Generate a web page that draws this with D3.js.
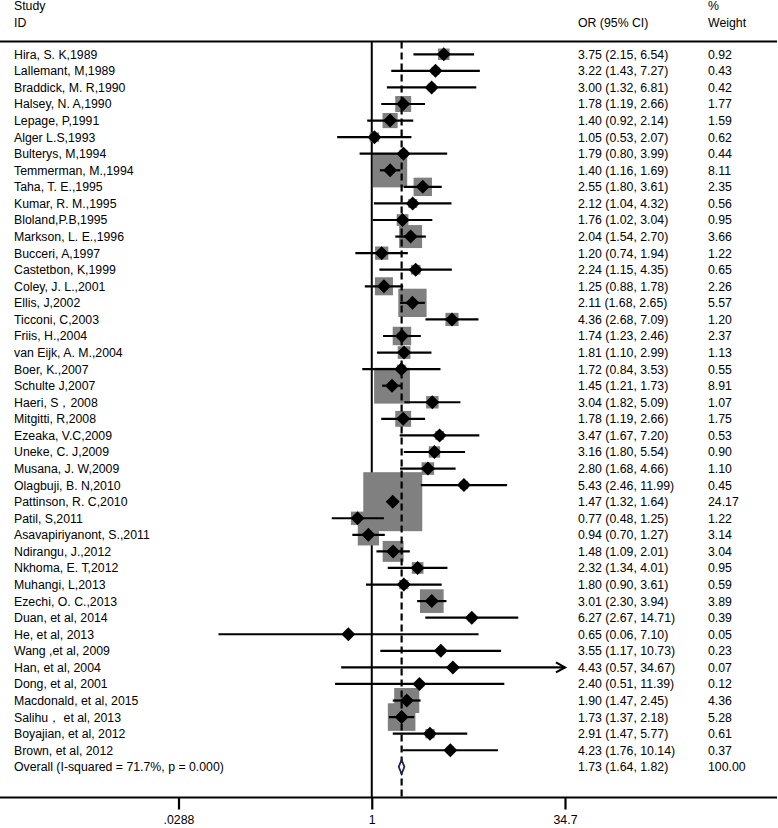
<!DOCTYPE html>
<html><head><meta charset="utf-8">
<script src="https://cdn.jsdelivr.net/npm/d3@7"></script>
<style>
html,body{margin:0;padding:0;background:#fff;}
text{font-family:"Liberation Sans",Arial,sans-serif;font-size:12.3px;fill:#000;}
</style></head>
<body><svg id="c" width="778" height="828"></svg>
<script>
const studies = ["Hira, S. K,1989","Lallemant, M,1989","Braddick, M. R,1990","Halsey, N. A,1990","Lepage, P,1991","Alger L.S,1993","Bulterys, M,1994","Temmerman, M.,1994","Taha, T. E.,1995","Kumar, R. M.,1995","Bloland,P.B,1995","Markson, L. E.,1996","Bucceri, A,1997","Castetbon, K,1999","Coley, J. L.,2001","Ellis, J,2002","Ticconi, C,2003","Friis, H.,2004","van Eijk, A. M.,2004","Boer, K.,2007","Schulte J,2007","Haeri, S，2008","Mitgitti, R,2008","Ezeaka, V.C,2009","Uneke, C. J,2009","Musana, J. W,2009","Olagbuji, B. N,2010","Pattinson, R. C,2010","Patil, S,2011","Asavapiriyanont, S.,2011","Ndirangu, J.,2012","Nkhoma, E. T,2012","Muhangi, L,2013","Ezechi, O. C.,2013","Duan, et al, 2014","He, et al, 2013","Wang ,et al, 2009","Han, et al, 2004","Dong, et al, 2001","Macdonald, et al, 2015","Salihu，  et al, 2013","Boyajian, et al, 2012","Brown, et al, 2012"];
const orVals = [3.75,3.22,3.00,1.78,1.40,1.05,1.79,1.40,2.55,2.12,1.76,2.04,1.20,2.24,1.25,2.11,4.36,1.74,1.81,1.72,1.45,3.04,1.78,3.47,3.16,2.80,5.43,1.47,0.77,0.94,1.48,2.32,1.80,3.01,6.27,0.65,3.55,4.43,2.40,1.90,1.73,2.91,4.23];
const loVals = [2.15,1.43,1.32,1.19,0.92,0.53,0.80,1.16,1.80,1.04,1.02,1.54,0.74,1.15,0.88,1.68,2.68,1.23,1.10,0.84,1.21,1.82,1.19,1.67,1.80,1.68,2.46,1.32,0.48,0.70,1.09,1.34,0.90,2.30,2.67,0.06,1.17,0.57,0.51,1.47,1.37,1.47,1.76];
const hiVals = [6.54,7.27,6.81,2.66,2.14,2.07,3.99,1.69,3.61,4.32,3.04,2.70,1.94,4.35,1.78,2.65,7.09,2.46,2.99,3.53,1.73,5.09,2.66,7.20,5.54,4.66,11.99,1.64,1.25,1.27,2.01,4.01,3.61,3.94,14.71,7.10,10.73,34.67,11.39,2.45,2.18,5.77,10.14];
const weights = [0.92,0.43,0.42,1.77,1.59,0.62,0.44,8.11,2.35,0.56,0.95,3.66,1.22,0.65,2.26,5.57,1.20,2.37,1.13,0.55,8.91,1.07,1.75,0.53,0.90,1.10,0.45,24.17,1.22,3.14,3.04,0.95,0.59,3.89,0.39,0.05,0.23,0.07,0.12,4.36,5.28,0.61,0.37];
const overall = {label:"Overall  (I-squared = 71.7%, p = 0.000)", or:1.73, lo:1.64, hi:1.82, weight:"100.00"};
const tickVals = [0.0288, 1, 34.7];
const tickLabels = [".0288", "1", "34.7"];
const arrowStudies = ["Han, et al, 2004"];

const svg = d3.select("#c");
const x = d3.scaleLog().domain([0.0288, 34.7]).range([178.5, 565]);
const y0 = 54.3, step = 16.57;
const y = i => y0 + i*step;
const fmt = d3.format(".2f");
const topY = 41.5, axY = 797.5;
const xOR = 578, xW = 708;
const dy = 4.4;

// headers
svg.append("text").attr("x",14).attr("y",10).text("Study");
svg.append("text").attr("x",14).attr("y",26.5).text("ID");
svg.append("text").attr("x",xOR).attr("y",26.5).text("OR (95% CI)");
svg.append("text").attr("x",xW).attr("y",10).text("%");
svg.append("text").attr("x",xW).attr("y",26.5).text("Weight");

svg.append("line").attr("x1",0).attr("x2",777).attr("y1",topY).attr("y2",topY).attr("stroke","#000").attr("stroke-width",2);
svg.append("line").attr("x1",0).attr("x2",777).attr("y1",axY).attr("y2",axY).attr("stroke","#000").attr("stroke-width",2);

// null line
svg.append("line").attr("x1",x(1)).attr("x2",x(1)).attr("y1",topY).attr("y2",axY).attr("stroke","#000").attr("stroke-width",2);

const rows = studies.map((s,i)=>({s,or:orVals[i],lo:loVals[i],hi:hiVals[i],w:weights[i],i}));
const k = 12.0;
// boxes
svg.append("g").selectAll("rect").data(rows).join("rect")
  .attr("x",d=>x(d.or)-k*Math.sqrt(d.w)/2).attr("y",d=>y(d.i)-k*Math.sqrt(d.w)/2)
  .attr("width",d=>k*Math.sqrt(d.w)).attr("height",d=>k*Math.sqrt(d.w))
  .attr("fill","#808080");

// overall dashed line
svg.append("line").attr("x1",x(overall.or)).attr("x2",x(overall.or)).attr("y1",topY).attr("y2",axY)
  .attr("stroke","#000").attr("stroke-width",2.2).attr("stroke-dasharray","7,4");

// CI lines
svg.append("g").selectAll("line").data(rows).join("line")
  .attr("x1",d=>x(d.lo)).attr("x2",d=>x(d.hi)).attr("y1",d=>y(d.i)).attr("y2",d=>y(d.i))
  .attr("stroke","#000").attr("stroke-width",2.2);

// arrows
rows.filter(d=>arrowStudies.includes(d.s)).forEach(d=>{
  const xe = x(d.hi), yy = y(d.i);
  svg.append("path").attr("d",`M${xe-9},${yy-5}L${xe},${yy}L${xe-9},${yy+5}`)
    .attr("fill","none").attr("stroke","#000").attr("stroke-width",2.2);
});

// diamonds
const h = 7;
svg.append("g").selectAll("path").data(rows).join("path")
  .attr("d",d=>{const cx=x(d.or), cy=y(d.i); return `M${cx-h},${cy}L${cx},${cy-h}L${cx+h},${cy}L${cx},${cy+h}Z`;})
  .attr("fill","#000");

// overall diamond
const oy = y(studies.length);
svg.append("path")
  .attr("d",`M${x(overall.lo)},${oy}L${x(overall.or)},${oy-7}L${x(overall.hi)},${oy}L${x(overall.or)},${oy+7}Z`)
  .attr("fill","#fff").attr("stroke","#1c2556").attr("stroke-width",1.8);

// texts
const tg = svg.append("g");
tg.selectAll("text.s").data(rows).join("text").attr("class","s")
  .attr("x",14).attr("y",d=>y(d.i)+dy).text(d=>d.s);
tg.selectAll("text.o").data(rows).join("text").attr("class","o")
  .attr("x",xOR).attr("y",d=>y(d.i)+dy).text(d=>`${fmt(d.or)} (${fmt(d.lo)}, ${fmt(d.hi)})`);
tg.selectAll("text.w").data(rows).join("text").attr("class","w")
  .attr("x",xW).attr("y",d=>y(d.i)+dy).text(d=>fmt(d.w));
svg.append("text").attr("x",14).attr("y",oy+dy).text(overall.label);
svg.append("text").attr("x",xOR).attr("y",oy+dy).text(`${fmt(overall.or)} (${fmt(overall.lo)}, ${fmt(overall.hi)})`);
svg.append("text").attr("x",xW).attr("y",oy+dy).text(overall.weight);

// axis
const axis = d3.axisBottom(x).tickValues(tickVals).tickFormat((d,i)=>tickLabels[i]).tickSize(12).tickPadding(6);
const ag = svg.append("g").attr("transform",`translate(0,${axY})`).call(axis);
ag.select(".domain").remove();
ag.selectAll(".tick line").attr("stroke","#000").attr("stroke-width",2.2);
ag.selectAll(".tick text").attr("font-family","Liberation Sans, Arial, sans-serif").attr("font-size","12.3px").attr("fill","#000");
</script></body></html>
